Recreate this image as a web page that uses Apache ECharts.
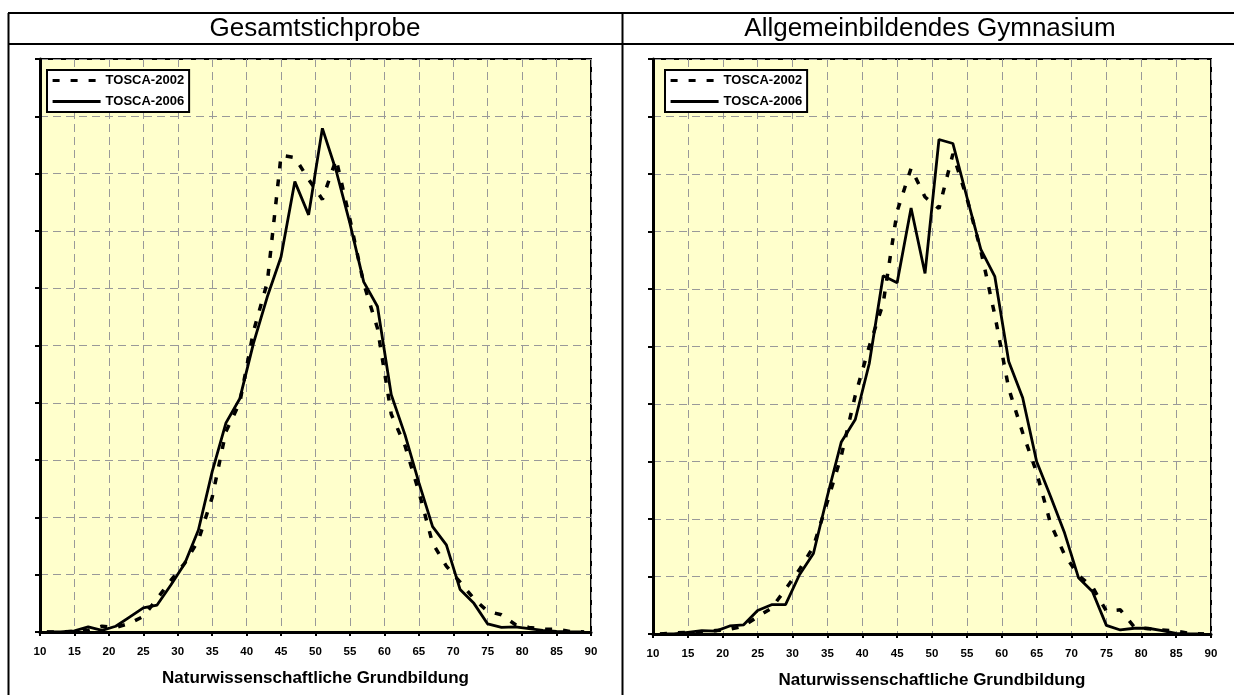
<!DOCTYPE html>
<html><head><meta charset="utf-8">
<script src="https://cdn.jsdelivr.net/npm/echarts/dist/echarts.min.js"></script>
<style>html,body{margin:0;padding:0;background:#fff}#c{width:1234px;height:695px}</style>
</head><body><div id="c"></div>
<script>
// ---- data ----
const scores = [11,13,15,17,19,21,23,25,27,29,31,33,35,37,39,41,43,45,47,49,51,53,55,57,59,61,63,65,67,69,71,73,75,77,79,81,83,85,87,89];
const gesamt2002 = [0,0,0.01,0.03,0.1,0.08,0.15,0.27,0.58,0.9,1.2,1.6,2.35,3.5,4.0,5.25,6.1,8.32,8.28,7.9,7.55,8.25,7.2,6.08,5.3,3.8,3.25,2.45,1.55,1.15,0.87,0.58,0.36,0.3,0.13,0.08,0.05,0.05,0.01,0];
const gesamt2006 = [0,0,0.02,0.09,0.03,0.1,0.26,0.42,0.47,0.82,1.19,1.78,2.8,3.65,4.07,5.04,5.85,6.55,7.86,7.28,8.79,8.05,7.13,6.11,5.68,4.14,3.44,2.61,1.84,1.52,0.74,0.5,0.14,0.08,0.09,0.06,0.03,0.01,0,0];
const gym2002 = [0,0.02,0.03,0.03,0.06,0.08,0.14,0.3,0.45,0.78,1.12,1.52,2.3,3.1,4.15,5.0,5.75,7.35,8.1,7.6,7.4,8.35,7.58,6.67,5.55,4.27,3.5,2.81,1.92,1.38,1.02,0.82,0.4,0.42,0.12,0.09,0.07,0.05,0.01,0];
const gym2006 = [0,0,0.03,0.06,0.05,0.14,0.16,0.41,0.51,0.51,1.03,1.4,2.4,3.34,3.73,4.7,6.23,6.11,7.41,6.27,8.6,8.53,7.6,6.69,6.22,4.74,4.11,3.0,2.39,1.76,0.98,0.74,0.15,0.07,0.1,0.1,0.06,0.01,0,0];
const xTickMin = 10, xTickMax = 90, xTickStep = 5;
const yTickMin = 0, yTickMax = 10, yTickStep = 1;
const panelTitles = ['Gesamtstichprobe', 'Allgemeinbildendes Gymnasium'];
const seriesNames = ['TOSCA-2002', 'TOSCA-2006'];
const axisTitle = 'Naturwissenschaftliche Grundbildung';

// ---- chart ----
const FONT = '"Liberation Sans", Arial, sans-serif';
const chart = echarts.init(document.getElementById('c'), null, {renderer: 'canvas'});
const grids = [
  {left: 40, top: 59, width: 551, height: 573},
  {left: 653, top: 59, width: 558, height: 575}
];
function xAxisFor(i) {
  return {
    type: 'value', gridIndex: i, min: xTickMin, max: xTickMax, interval: xTickStep,
    name: axisTitle, nameLocation: 'middle', nameGap: 38,
    nameTextStyle: {fontFamily: FONT, fontSize: 17, fontWeight: 'bold', color: '#000'},
    axisLine: {show: true, onZero: false, lineStyle: {color: '#000', width: 3}},
    axisTick: {show: true, inside: false, length: 4, lineStyle: {color: '#000', width: 2}},
    axisLabel: {show: true, margin: 14, fontFamily: FONT, fontSize: 11.5, fontWeight: 'bold', color: '#000'},
    splitLine: {show: true, lineStyle: {color: '#999', width: 1, type: [8, 5]}}
  };
}
function yAxisFor(i) {
  return {
    type: 'value', gridIndex: i, min: yTickMin, max: yTickMax, interval: yTickStep,
    axisLine: {show: true, lineStyle: {color: '#000', width: 3}},
    axisTick: {show: true, inside: false, length: 5, lineStyle: {color: '#000', width: 2}},
    axisLabel: {show: false},
    splitLine: {show: true, lineStyle: {color: '#999', width: 1, type: [8, 5]}}
  };
}
function pairs(arr) { return scores.map((s, k) => [s, arr[k]]); }
const dashed = {color: '#000', width: 3.5, type: [7, 11], cap: 'butt'};
const solid = {color: '#000', width: 2.8, type: 'solid'};
function mkSeries(name, idx, arr, ls) {
  return {
    name: name, type: 'line', xAxisIndex: idx, yAxisIndex: idx, data: pairs(arr),
    symbol: 'none', showSymbol: false, smooth: false, lineStyle: ls,
    itemStyle: {color: '#000'}, emphasis: {disabled: true}
  };
}
function mkLegend(i, left) {
  return {
    show: true, orient: 'vertical', left: left, top: 70,
    data: seriesNames, itemWidth: 48, itemHeight: 13, itemGap: 8,
    padding: [4, 5, 4, 4], backgroundColor: '#fff', borderColor: '#000', borderWidth: 2, borderRadius: 0,
    itemStyle: {color: 'rgba(0,0,0,0)', borderColor: 'rgba(0,0,0,0)', borderWidth: 0, opacity: 0},
    lineStyle: {width: 3.2},
    textStyle: {fontFamily: FONT, fontSize: 13, fontWeight: 'bold', color: '#000'},
    selectedMode: false
  };
}
function hline(y) { return {type: 'line', shape: {x1: 8, y1: y, x2: 1234, y2: y}, style: {stroke: '#000', lineWidth: 2}, z: 100}; }
function vline(x) { return {type: 'line', shape: {x1: x, y1: 13, x2: x, y2: 695}, style: {stroke: '#000', lineWidth: 2}, z: 100}; }
function ttl(text, x) {
  return {type: 'text', x: x, y: 29, z: 100,
    style: {text: text, font: '26px ' + FONT, fill: '#000', textAlign: 'center', align: 'center', textVerticalAlign: 'middle', verticalAlign: 'middle'}};
}
chart.setOption({
  animation: false,
  backgroundColor: '#fff',
  grid: grids.map(g => Object.assign({show: true, backgroundColor: '#FFFFCC', borderColor: '#000', borderWidth: 2, outerBoundsMode: 'none', containLabel: false}, g)),
  xAxis: [xAxisFor(0), xAxisFor(1)],
  yAxis: [yAxisFor(0), yAxisFor(1)],
  legend: [mkLegend(0, 47), mkLegend(1, 665)],
  series: [
    mkSeries(seriesNames[0], 0, gesamt2002, dashed),
    mkSeries(seriesNames[1], 0, gesamt2006, solid),
    mkSeries(seriesNames[0], 1, gym2002, dashed),
    mkSeries(seriesNames[1], 1, gym2006, solid)
  ],
  graphic: [hline(13), hline(44), vline(8.5), vline(622.5), ttl(panelTitles[0], 315), ttl(panelTitles[1], 930)]
});
</script></body></html>
